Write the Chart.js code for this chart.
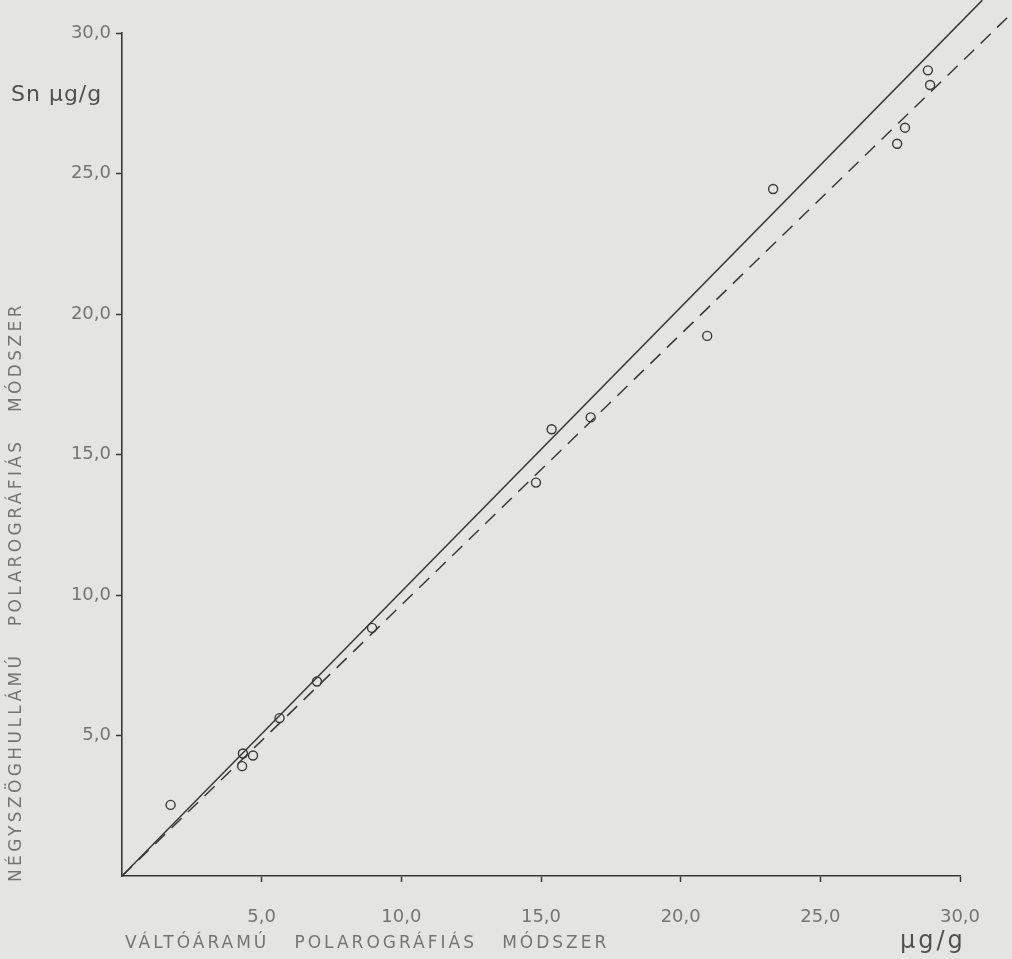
<!DOCTYPE html>
<html>
<head>
<meta charset="utf-8">
<script src="https://cdn.jsdelivr.net/npm/chart.js@4.4.1/dist/chart.umd.min.js"></script>
<style>
  html, body { margin: 0; padding: 0; background: #e4e5e3; }
  #wrap { width: 1012px; height: 959px; }
</style>
</head>
<body>
<div id="wrap"><canvas id="grafica" width="1012" height="959"></canvas></div>
<script>
// mért pontok (váltóáramú, négyszöghullámú), µg/g
const valtoaramu = [1.74, 4.30, 4.33, 4.69, 5.64, 6.98, 8.95, 14.82, 15.38, 16.78, 20.95, 23.31, 27.75, 28.03, 28.85, 28.93];
const negyszog   = [2.53, 3.91, 4.36, 4.29, 5.62, 6.92, 8.83, 14.00, 15.90, 16.32, 19.22, 24.45, 26.06, 26.63, 28.67, 28.15];

// egyenesek végpontjai (x, y)
const folytonosX = [0, 30.8];
const folytonosY = [0, 31.17];
const szaggatottX = [0, 31.87];
const szaggatottY = [0, 30.72];

const tengelyTicks = [5, 10, 15, 20, 25, 30];

const cimX = "VÁLTÓÁRAMÚ   POLAROGRÁFIÁS   MÓDSZER";
const cimY = "NÉGYSZÖGHULLÁMÚ   POLAROGRÁFIÁS   MÓDSZER";

const sotet = "#383838";
const szurke = "#747474";

function pontok(xs, ys) {
    return xs.map((x, i) => ({ x: x, y: ys[i] }));
}

function cimke(v) {
    return tengelyTicks.includes(v) ? v.toFixed(1).replace(".", ",") : "";
}

const feliratok = {
    id: "feliratok",
    afterDraw(chart) {
        const ctx = chart.ctx;
        const area = chart.chartArea;
        ctx.save();
        ctx.fillStyle = szurke;
        ctx.font = "17px 'DejaVu Sans'";
        ctx.textBaseline = "middle";
        ctx.textAlign = "left";
        ctx.letterSpacing = "3px";
        ctx.fillText(cimX, area.left + 3, 944);

        ctx.save();
        ctx.translate(17, area.bottom + 6);
        ctx.rotate(-Math.PI / 2);
        ctx.letterSpacing = "3.4px";
        ctx.fillText(cimY, 0, 0);
        ctx.restore();

        ctx.fillStyle = "#505050";
        ctx.letterSpacing = "1px";
        ctx.font = "22px 'DejaVu Sans'";
        ctx.fillText("Sn µg/g", 11, 95);
        ctx.letterSpacing = "3px";
        ctx.font = "24px 'DejaVu Sans'";
        ctx.fillText("µg/g", 900, 942);
        ctx.restore();
    }
};

const ctx = document.getElementById("grafica").getContext("2d");
new Chart(ctx, {
    type: "scatter",
    data: {
        datasets: [
            {
                label: "mérések",
                data: pontok(valtoaramu, negyszog),
                pointStyle: "circle",
                pointRadius: 4.5,
                pointBorderWidth: 1.4,
                pointBorderColor: sotet,
                pointBackgroundColor: "rgba(0,0,0,0)"
            },
            {
                label: "folytonos",
                type: "line",
                data: pontok(folytonosX, folytonosY),
                borderColor: sotet,
                borderWidth: 1.5,
                pointRadius: 0,
                clip: false
            },
            {
                label: "szaggatott",
                type: "line",
                data: pontok(szaggatottX, szaggatottY),
                borderColor: sotet,
                borderWidth: 1.5,
                borderDash: [14, 9],
                pointRadius: 0,
                clip: false
            }
        ]
    },
    options: {
        responsive: false,
        animation: false,
        devicePixelRatio: 1,
        layout: { padding: { top: 33, right: 52, left: 0, bottom: 0 } },
        plugins: {
            legend: { display: false },
            tooltip: { enabled: false }
        },
        scales: {
            x: {
                type: "linear",
                min: 0,
                max: 30,
                afterFit: s => { s.height = 83; },
                afterBuildTicks: s => { s.ticks = [0].concat(tengelyTicks).map(v => ({ value: v })); },
                border: { display: true, color: sotet, width: 1.6 },
                grid: {
                    drawOnChartArea: false,
                    drawTicks: true,
                    tickLength: 6,
                    tickWidth: 1.5,
                    color: c => (c.tick && c.tick.value === 0) ? "rgba(0,0,0,0)" : sotet
                },
                ticks: {
                    padding: 25,
                    color: szurke,
                    font: { family: "'DejaVu Sans'", size: 18 },
                    maxRotation: 0,
                    callback: cimke
                }
            },
            y: {
                type: "linear",
                min: 0,
                max: 30,
                afterFit: s => { s.width = 122; },
                afterBuildTicks: s => { s.ticks = [0].concat(tengelyTicks).map(v => ({ value: v })); },
                border: { display: true, color: sotet, width: 1.6 },
                grid: {
                    drawOnChartArea: false,
                    drawTicks: true,
                    tickLength: 6,
                    tickWidth: 1.5,
                    color: c => (c.tick && c.tick.value === 0) ? "rgba(0,0,0,0)" : sotet
                },
                ticks: {
                    padding: 5,
                    color: szurke,
                    font: { family: "'DejaVu Sans'", size: 18 },
                    callback: cimke
                }
            }
        }
    },
    plugins: [feliratok]
});
</script>
</body>
</html>
